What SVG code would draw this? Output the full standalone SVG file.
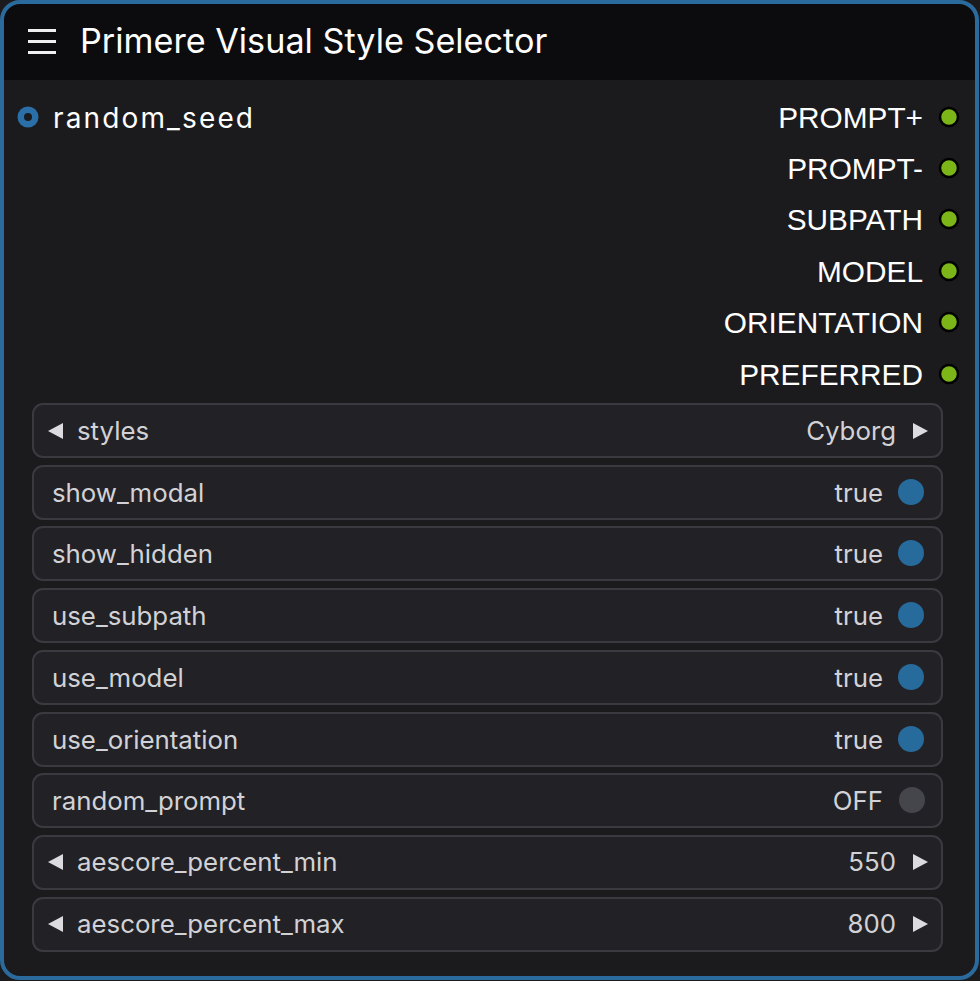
<svg xmlns="http://www.w3.org/2000/svg" width="980" height="981" viewBox="0 0 980 981">
<style>
.out{font-family:"Liberation Sans",Arial,sans-serif;font-size:29.8px;fill:#ffffff;text-anchor:end}
.wb{fill:#222226;stroke:#3a3a40;stroke-width:2}
.wl{font-family:Inter,"Noto Sans",sans-serif;font-size:25.8px;fill:#d2d2d6}
.wv{font-family:Inter,"Noto Sans",sans-serif;font-size:25.8px;fill:#d2d2d6;text-anchor:end}
.dot{fill:#7cb518;stroke:#000;stroke-width:2.5}
.tog{fill:#276a9c}
.tri{fill:#dcdce0}
</style>
<defs>
<clipPath id="nc"><rect x="2" y="2" width="975" height="976" rx="18"/></clipPath>
</defs>
<rect width="980" height="981" fill="#1b1b1e"/>
<g id="node">
<g clip-path="url(#nc)">
<rect x="2" y="2" width="975" height="976" fill="#1b1b1e"/>
<rect x="2" y="2" width="975" height="78" fill="#0c0c0e"/>
</g>
<rect x="2" y="2" width="975" height="976" rx="18" fill="none" stroke="#2b6a9c" stroke-width="4"/>
<g id="title">
<rect x="28" y="29" width="28" height="3" fill="#f0f0f0"/>
<rect x="28" y="40" width="28" height="3" fill="#f0f0f0"/>
<rect x="28" y="51" width="28" height="3" fill="#f0f0f0"/>
<text x="80" y="53" font-family="Inter,'Noto Sans',sans-serif" font-size="34.2" fill="#ffffff">Primere Visual Style Selector</text>
</g>
</g>
<g id="input-random_seed">
<circle cx="28" cy="117" r="10.5" fill="#2a6fa8"/>
<circle cx="28" cy="117" r="4" fill="#1b1b1e"/>
<text x="53" y="128" font-family="Inter,'Noto Sans',sans-serif" font-size="28" fill="#ffffff" textLength="200" lengthAdjust="spacing">random_seed</text>
</g>
<g id="outputs">
<g id="out-prompt-plus"><text class="out" x="923" y="128">PROMPT+</text><circle class="dot" cx="949" cy="117" r="9"/></g>
<g id="out-prompt-minus"><text class="out" x="923" y="179">PROMPT-</text><circle class="dot" cx="949" cy="168" r="9"/></g>
<g id="out-subpath"><text class="out" x="923" y="230">SUBPATH</text><circle class="dot" cx="949" cy="219" r="9"/></g>
<g id="out-model"><text class="out" x="923" y="282">MODEL</text><circle class="dot" cx="949" cy="271" r="9"/></g>
<g id="out-orientation"><text class="out" x="923" y="333">ORIENTATION</text><circle class="dot" cx="949" cy="322" r="9"/></g>
<g id="out-preferred"><text class="out" x="923" y="385">PREFERRED</text><circle class="dot" cx="949" cy="374" r="9"/></g>
</g>
<g id="widgets">
<g id="w-styles"><rect class="wb" x="33" y="404" width="909" height="53" rx="10"/><polygon class="tri" points="48,431 63,423 63,439"/><text class="wl" x="77" y="440">styles</text><text class="wv" x="896" y="440">Cyborg</text><polygon class="tri" points="928,431 913,423 913,439"/></g>
<g id="w-show_modal"><rect class="wb" x="33" y="466" width="909" height="53" rx="10"/><text class="wl" x="52" y="502">show_modal</text><text class="wv" x="883" y="502">true</text><circle class="tog" cx="911" cy="492" r="13"/></g>
<g id="w-show_hidden"><rect class="wb" x="33" y="527" width="909" height="53" rx="10"/><text class="wl" x="52" y="563">show_hidden</text><text class="wv" x="883" y="563">true</text><circle class="tog" cx="911" cy="553" r="13"/></g>
<g id="w-use_subpath"><rect class="wb" x="33" y="589" width="909" height="53" rx="10"/><text class="wl" x="52" y="625">use_subpath</text><text class="wv" x="883" y="625">true</text><circle class="tog" cx="911" cy="615" r="13"/></g>
<g id="w-use_model"><rect class="wb" x="33" y="651" width="909" height="53" rx="10"/><text class="wl" x="52" y="687">use_model</text><text class="wv" x="883" y="687">true</text><circle class="tog" cx="911" cy="677" r="13"/></g>
<g id="w-use_orientation"><rect class="wb" x="33" y="713" width="909" height="53" rx="10"/><text class="wl" x="52" y="749">use_orientation</text><text class="wv" x="883" y="749">true</text><circle class="tog" cx="911" cy="739" r="13"/></g>
<g id="w-random_prompt"><rect class="wb" x="33" y="774" width="909" height="53" rx="10"/><text class="wl" x="52" y="810">random_prompt</text><text class="wv" x="883" y="810">OFF</text><circle cx="912" cy="800" r="13" fill="#45454c"/></g>
<g id="w-aescore_min"><rect class="wb" x="33" y="836" width="909" height="53" rx="10"/><polygon class="tri" points="48,862 63,854 63,870"/><text class="wl" x="77" y="871">aescore_percent_min</text><text class="wv" x="896" y="871">550</text><polygon class="tri" points="928,862 913,854 913,870"/></g>
<g id="w-aescore_max"><rect class="wb" x="33" y="898" width="909" height="53" rx="10"/><polygon class="tri" points="48,924 63,916 63,932"/><text class="wl" x="77" y="933">aescore_percent_max</text><text class="wv" x="896" y="933">800</text><polygon class="tri" points="928,924 913,916 913,932"/></g>
</g>
<g id="connectors"/>
</svg>
